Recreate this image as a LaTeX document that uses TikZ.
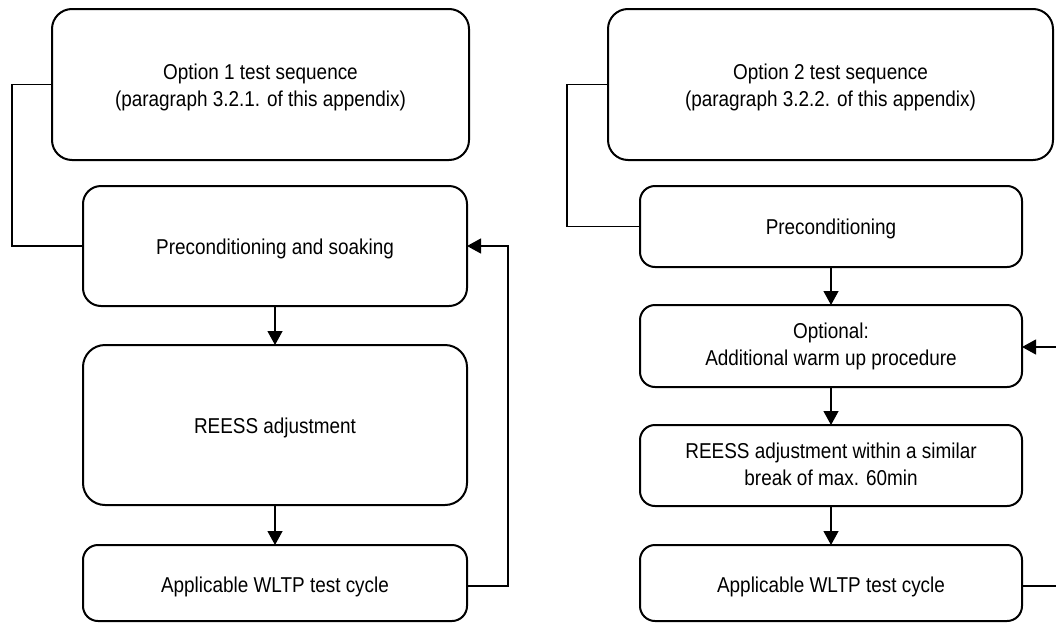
\documentclass[tikz,border=0pt]{standalone}
\usepackage{fontspec}
\setmainfont[FakeStretch=0.88]{Liberation Sans}
\usetikzlibrary{arrows.meta,calc}
\newcommand{\lowtext}[2][3pt]{\raisebox{-#1}[\height][\depth]{\renewcommand{\arraystretch}{1}\begin{tabular}{@{}c@{}}#2\end{tabular}}}
\begin{document}
\begin{tikzpicture}[x=1pt,y=-1pt,
  box/.style={draw=black,line width=2pt,rounded corners=#1,inner sep=0pt,outer sep=0pt,
    align=center,font=\fontsize{21.5}{27}\selectfont},
  box/.default=15pt,
  conn/.style={draw=black,line width=1.2pt},
  arr/.style={conn,-{Triangle[length=14pt,width=15pt]}}]
\useasboundingbox (0,0) rectangle (1056,624);
% left column
\node[box=20pt,minimum width=417pt,minimum height=151pt] (a1) at (260.5,84.5)
  {\lowtext{Option 1 test sequence\\(paragraph 3.2.1. of this appendix)}};
\node[box=18pt,minimum width=384pt,minimum height=120pt] (a2) at (275,246)
  {\lowtext{Preconditioning and soaking}};
\node[box=22pt,minimum width=384pt,minimum height=160pt] (a3) at (275,425)
  {\lowtext{REESS adjustment}};
\node[box=15pt,minimum width=384pt,minimum height=76pt] (a4) at (275,583)
  {\lowtext[4pt]{Applicable WLTP test cycle}};
% right column
\node[box=20pt,minimum width=445pt,minimum height=151pt] (c1) at (830.5,84.5)
  {\lowtext{Option 2 test sequence\\(paragraph 3.2.2. of this appendix)}};
\node[box=15pt,minimum width=382pt,minimum height=81pt] (c2) at (831,226.5)
  {\lowtext{Preconditioning}};
\node[box=15pt,minimum width=382pt,minimum height=82pt] (c3) at (831,346)
  {\lowtext[1pt]{Optional:\\Additional warm up procedure}};
\node[box=15pt,minimum width=382pt,minimum height=81pt] (c4) at (831,465.5)
  {\lowtext[1pt]{REESS adjustment within a similar\\break of max. 60min}};
\node[box=15pt,minimum width=382pt,minimum height=76pt] (c5) at (831,583)
  {\lowtext[4pt]{Applicable WLTP test cycle}};
\coordinate (r1) at (1056,347);
\coordinate (r2) at (1056,586);
% connectors left
\draw[conn] (a1.west) -- ++(-40,0) |- (a2.west);
\draw[arr] (a2.south) -- (a3.north);
\draw[arr] (a3.south) -- (a4.north);
\draw[arr] ($(a4.east)+(0,3)$) -- ++(41,0) |- (a2.east);
% connectors right
\draw[conn] (c1.west) -- ++(-41,0) |- (c2.west);
\draw[arr] (c2.south) -- (c3.north);
\draw[arr] (c3.south) -- (c4.north);
\draw[arr] (c4.south) -- (c5.north);
\draw[arr] (r1) -- (c3.east |- r1);
\draw[conn] ($(c5.east)+(0,3)$) -- (r2);
\end{tikzpicture}
\end{document}
